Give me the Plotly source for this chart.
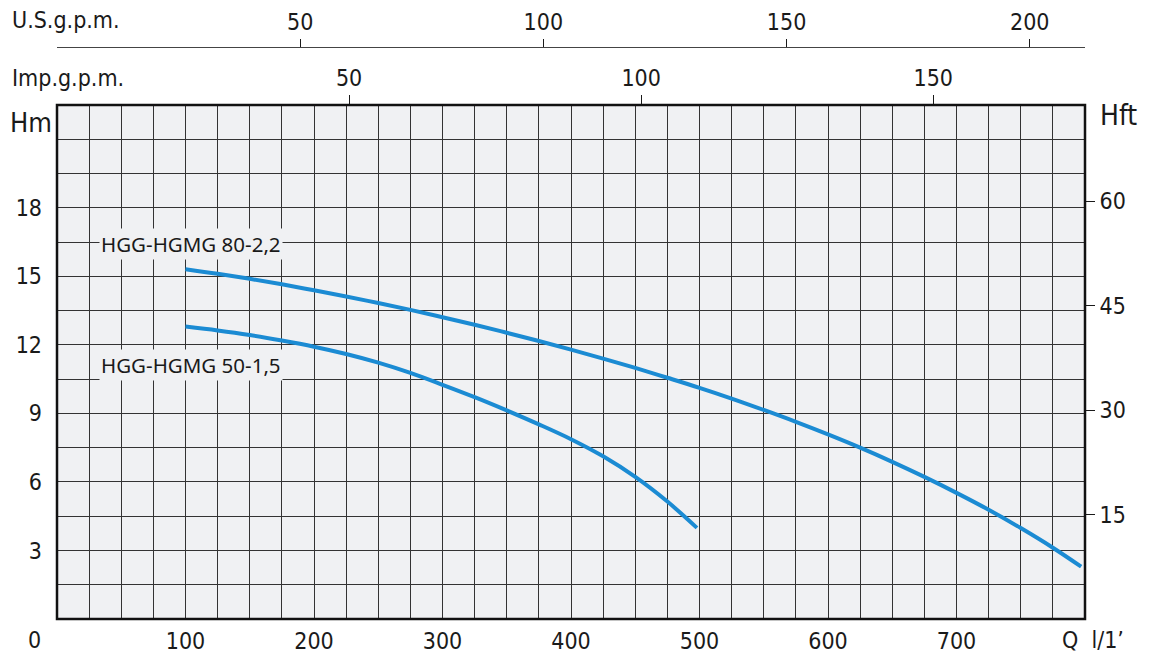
import plotly.graph_objects as go

# curva HGG-HGMG 80-2,2 (Q in l/min, H in m)
q_80 = [100, 125, 150, 175, 200, 225, 250, 275, 300, 325, 350, 375, 400, 425, 450,
        475, 500, 525, 550, 575, 600, 625, 650, 675, 700, 725, 750, 775, 797]
h_80 = [15.31, 15.11, 14.89, 14.65, 14.39, 14.12, 13.83, 13.53, 13.21, 12.88, 12.53,
        12.17, 11.79, 11.40, 10.99, 10.56, 10.12, 9.65, 9.15, 8.63, 8.08, 7.50, 6.88,
        6.22, 5.52, 4.78, 3.98, 3.12, 2.29]

# curva HGG-HGMG 50-1,5
q_50 = [100, 125, 150, 175, 200, 225, 250, 275, 300, 325, 350, 375, 400, 425, 450, 475, 498]
h_50 = [12.80, 12.63, 12.43, 12.19, 11.92, 11.60, 11.22, 10.77, 10.25, 9.71, 9.13,
        8.52, 7.87, 7.12, 6.22, 5.14, 3.99]

names = ["HGG-HGMG 80-2,2", "HGG-HGMG 50-1,5"]

q_ticks = [100, 200, 300, 400, 500, 600, 700]
hm_ticks = [3, 6, 9, 12, 15, 18]
hft_ticks = [15, 30, 45, 60]
imp_ticks = [50, 100, 150]
us_ticks = [50, 100, 150, 200]

Q_MAX = 800
H_MAX = 22.5
FT = 0.3048
IMP = 4.546
USG = 3.785

# la pagina html ha un margine di 8px attorno alla figura
OFF = 8
W, H = 1155 - OFF, 665 - OFF
ML, MR, MT, MB = 57 - OFF, 70, 20 - OFF, 46
PW = W - ML - MR
PH = H - MT - MB


def px(x, y):
    # pixel della pagina -> coordinate paper
    return (x - OFF - ML) / PW, (H - MB - (y - OFF)) / PH


plot_top = px(0, 105)[1]
us_line = px(0, 47)[1]

BG = "#f0f1f3"
GRID = "#333333"
BLUE = "#1b8bd3"
TXT = "#1a1a1a"
tick_font = dict(family="DejaVu Sans Condensed", size=23, color=TXT)

fig = go.Figure()
fig.add_trace(go.Scatter(x=q_80, y=h_80, mode="lines", line=dict(color=BLUE, width=4, shape="spline"),
                         name=names[0], showlegend=False))
fig.add_trace(go.Scatter(x=q_50, y=h_50, mode="lines", line=dict(color=BLUE, width=4, shape="spline"),
                         name=names[1], showlegend=False))
# tracce vuote per attivare gli assi secondari
fig.add_trace(go.Scatter(x=[None], y=[None], yaxis="y2", showlegend=False))
fig.add_trace(go.Scatter(x=[None], y=[None], xaxis="x2", showlegend=False))
fig.add_trace(go.Scatter(x=[None], y=[None], xaxis="x3", showlegend=False))

fig.update_layout(
    width=W, height=H,
    margin=dict(l=ML, r=MR, t=MT, b=MB),
    paper_bgcolor="white", plot_bgcolor=BG,
    xaxis=dict(range=[0, Q_MAX], domain=[0, 1], anchor="y", tickvals=q_ticks, automargin=False,
               showgrid=True, gridcolor=GRID, gridwidth=1.2, zeroline=False,
               minor=dict(tick0=0, dtick=25, showgrid=True, gridcolor=GRID, gridwidth=1.2),
               ticks="", ticklabelstandoff=6, tickfont=tick_font),
    yaxis=dict(range=[0, H_MAX], domain=[0, plot_top], anchor="x", tickvals=hm_ticks, automargin=False,
               showgrid=True, gridcolor=GRID, gridwidth=1.2, zeroline=False,
               minor=dict(tick0=0, dtick=1.5, showgrid=True, gridcolor=GRID, gridwidth=1.2),
               ticks="", ticklabelstandoff=14, tickfont=tick_font),
    yaxis2=dict(range=[0, H_MAX / FT], overlaying="y", side="right", anchor="x", automargin=False,
                tickvals=hft_ticks, showgrid=False, zeroline=False,
                ticks="outside", ticklen=9, tickwidth=1.2, tickcolor=TXT, tickfont=tick_font),
    xaxis2=dict(range=[0, Q_MAX / IMP], overlaying="x", side="top", anchor="y", automargin=False,
                tickvals=imp_ticks, showgrid=False, zeroline=False,
                ticks="outside", ticklen=9, tickwidth=1.2, tickcolor=TXT, tickfont=tick_font),
    xaxis3=dict(range=[0, Q_MAX / USG], overlaying="x", side="top", anchor="free", position=us_line,
                tickvals=us_ticks, showgrid=False, zeroline=False, automargin=False,
                showline=True, linecolor="#444444", linewidth=1.2,
                ticks="outside", ticklen=8, tickwidth=1.2, tickcolor=TXT, tickfont=tick_font),
)

# cornice del grafico
fig.add_shape(type="rect", xref="x domain", yref="y domain", x0=0, x1=1, y0=0, y1=1,
              line=dict(color="#111111", width=2.5), layer="above")

# etichette delle curve
for name, (lx, ly) in zip(names, [(99, 244), (99, 365)]):
    ax, ay = px(lx, ly)
    fig.add_annotation(x=ax, y=ay, xref="paper", yref="paper", text=name, showarrow=False,
                       xanchor="left", yanchor="middle", bgcolor=BG, borderpad=1,
                       font=dict(family="Noto Sans", size=20.5, color=TXT))

# titoli degli assi
titles = [("U.S.g.p.m.", 10, 20, 23), ("Imp.g.p.m.", 10, 78, 23), ("Hm", 8, 123, 27),
          ("Hft", 1098, 115, 28), ("Q  l/1’", 1060, 640, 23), ("0", 26, 640, 23)]
for text, tx, ty, size in titles:
    ax, ay = px(tx, ty)
    fig.add_annotation(x=ax, y=ay, xref="paper", yref="paper", text=text, showarrow=False,
                       xanchor="left", yanchor="middle",
                       font=dict(family="DejaVu Sans Condensed", size=size, color=TXT))

fig.write_html("out.html")
